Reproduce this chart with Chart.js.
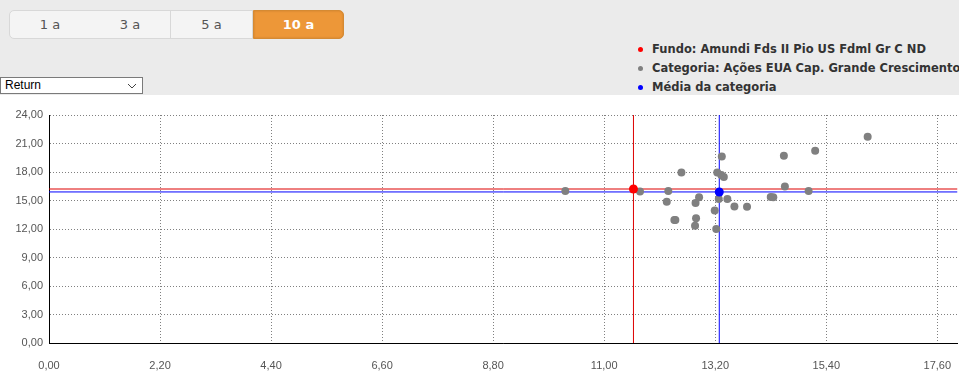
<!DOCTYPE html>
<html lang="pt">
<head>
<meta charset="UTF-8">
<title>Risco x Retorno</title>
<script src="https://cdn.jsdelivr.net/npm/chart.js"></script>
<style>
  body { margin: 0; background: #fff; font-family: "DejaVu Sans", sans-serif; }
  #page { position: relative; width: 959px; height: 373px; overflow: hidden; }
  #top { position: absolute; left: 0; top: 0; width: 959px; height: 95px; background: #ebebeb; }
  .seg { position: absolute; top: 10px; height: 27px; line-height: 27px; text-align: center;
         font-size: 13px; color: #555; background: #f4f4f4;
         border: 1px solid #d8d8d8; box-sizing: content-box; }
  .seg.on { background: #ed9738; color: #fff; font-weight: bold; border-color: #d58a33;
            border-radius: 0 5px 5px 0; box-shadow: inset 0 0 2px #c67c2c; }
  #sel { position: absolute; left: 0; top: 77px; height: 15px; background: #fff;
         border: 1px solid #7a7a7a; font-family: "Liberation Sans", sans-serif; font-size: 12px;
         line-height: 15px; padding-left: 4px; box-sizing: content-box; width: 137px; }
  #sel svg { position: absolute; right: 5px; top: 5px; }
  #legend { position: absolute; left: 636px; top: 40px; font-size: 11.5px; font-weight: bold; color: #333; white-space: nowrap; }
  #legend div { position: relative; height: 19px; line-height: 19px; padding-left: 16px; }
  #legend span { position: absolute; left: 2px; top: 7px; width: 5px; height: 5px; border-radius: 50%; }
  #wrap { position: absolute; left: 0; top: 95px; width: 962px; height: 278px; }
</style>
</head>
<body>
<div id="page">
  <div id="top">
    <div class="seg" style="left:9px;width:80px;border-radius:5px 0 0 5px;">1 a</div>
    <div class="seg" style="left:90px;width:80px;border-left:none;">3 a</div>
    <div class="seg" style="left:171px;width:81px;border-left:none;">5 a</div>
    <div class="seg on" style="left:253px;width:89px;">10 a</div>
    <div id="sel">Return<svg width="10" height="6" viewBox="0 0 10 6"><polyline points="1,1 5,5 9,1" fill="none" stroke="#444" stroke-width="1"/></svg></div>
    <div id="legend"></div>
  </div>
  <div id="wrap"><canvas id="riskChart"></canvas></div>
</div>

<script>
// eixos
const xTicks = [0, 2.2, 4.4, 6.6, 8.8, 11, 13.2, 15.4, 17.6];
const yTicks = [0, 3, 6, 9, 12, 15, 18, 21, 24];
const xRange = [0, 18];
const yRange = [0, 24];

// legenda
const fundName = 'Fundo: Amundi Fds II Pio US Fdml Gr C ND';
const categoryName = 'Categoria: Ações EUA Cap. Grande Crescimento';
const meanName = 'Média da categoria';

// fundo e média: [risco, retorno]
const fundPoint = [11.58, 16.21];
const meanPoint = [13.28, 15.90];

// fundos da categoria
const categoryRisk = [16.22, 15.18, 14.56, 13.33, 12.53, 13.24, 13.32, 13.37, 11.71, 12.27,
                      14.58, 15.05, 12.88, 13.27, 13.44, 14.30, 14.35, 12.24, 12.81, 13.58,
                      13.83, 13.19, 12.39, 12.41, 12.82, 12.80, 13.22, 10.23];
const categoryReturn = [21.72, 20.24, 19.72, 19.64, 17.96, 17.96, 17.68, 17.47, 15.96, 16.00,
                        16.48, 16.00, 15.33, 15.16, 15.16, 15.37, 15.33, 14.87, 14.73, 14.38,
                        14.35, 13.96, 12.95, 12.95, 13.12, 12.35, 12.00, 16.00];

const fundColor = '#ff0000';
const categoryColor = '#808080';
const meanColor = '#0000ff';

// legenda em html
const legendBox = document.getElementById('legend');
[[fundColor, fundName], [categoryColor, categoryName], [meanColor, meanName]].forEach(function (item) {
    const row = document.createElement('div');
    row.innerHTML = '<span style="background:' + item[0] + '"></span>';
    row.appendChild(document.createTextNode(item[1]));
    legendBox.appendChild(row);
});

const fmt = v => v.toFixed(2).replace('.', ',');

const catData = categoryRisk.map((x, i) => ({x: x, y: categoryReturn[i]}));

function hLine(y, color) {
    return {type: 'line', data: [{x: xRange[0], y: y}, {x: xRange[1], y: y}], borderColor: color,
            borderWidth: 1, pointRadius: 0, order: 5};
}
function vLine(x, color) {
    return {type: 'line', data: [{x: x, y: yRange[0]}, {x: x, y: yRange[1]}], borderColor: color,
            borderWidth: 1, pointRadius: 0, order: 5};
}

const ctx = document.getElementById('riskChart');
const riskChart = new Chart(ctx, {
    type: 'scatter',
    data: {
        datasets: [
            {label: meanName, data: [{x: meanPoint[0], y: meanPoint[1]}], backgroundColor: meanColor,
             borderWidth: 0, pointRadius: 4.5, order: 1},
            {label: fundName, data: [{x: fundPoint[0], y: fundPoint[1]}], backgroundColor: fundColor,
             borderWidth: 0, pointRadius: 4.5, order: 2},
            {label: categoryName, data: catData, backgroundColor: categoryColor,
             borderWidth: 0, pointRadius: 4, order: 3},
            hLine(fundPoint[1], '#dd0000'),
            hLine(meanPoint[1], meanColor),
            vLine(fundPoint[0], '#dd0000'),
            vLine(meanPoint[0], meanColor)
        ]
    },
    options: {
        responsive: true,
        maintainAspectRatio: false,
        animation: false,
        layout: {padding: {top: 20, right: 1, left: 0, bottom: 0}},
        plugins: {legend: {display: false}, tooltip: {enabled: false}},
        scales: {
            x: {
                type: 'linear', min: xRange[0], max: xRange[1],
                afterBuildTicks: s => { s.ticks = xTicks.map(v => ({value: v})); },
                afterFit: s => { s.height = 30; s.paddingLeft = 0; s.paddingRight = 0; },
                grid: {color: '#808080', lineWidth: 1, drawTicks: false},
                border: {display: true, color: '#000', width: 1, dash: [1, 2]},
                ticks: {callback: v => fmt(v), color: '#555', padding: 16,
                        font: {family: 'Liberation Sans', size: 11}, maxRotation: 0, autoSkip: false}
            },
            y: {
                type: 'linear', min: yRange[0], max: yRange[1],
                afterBuildTicks: s => { s.ticks = yTicks.map(v => ({value: v})); },
                afterFit: s => { s.width = 49; s.paddingTop = 0; s.paddingBottom = 0; },
                grid: {color: '#808080', lineWidth: 1, drawTicks: false},
                border: {display: true, color: '#000', width: 1, dash: [1, 2]},
                ticks: {callback: v => fmt(v), color: '#555', padding: 6,
                        font: {family: 'Liberation Sans', size: 11}}
            }
        }
    }
});
</script>
</body>
</html>
